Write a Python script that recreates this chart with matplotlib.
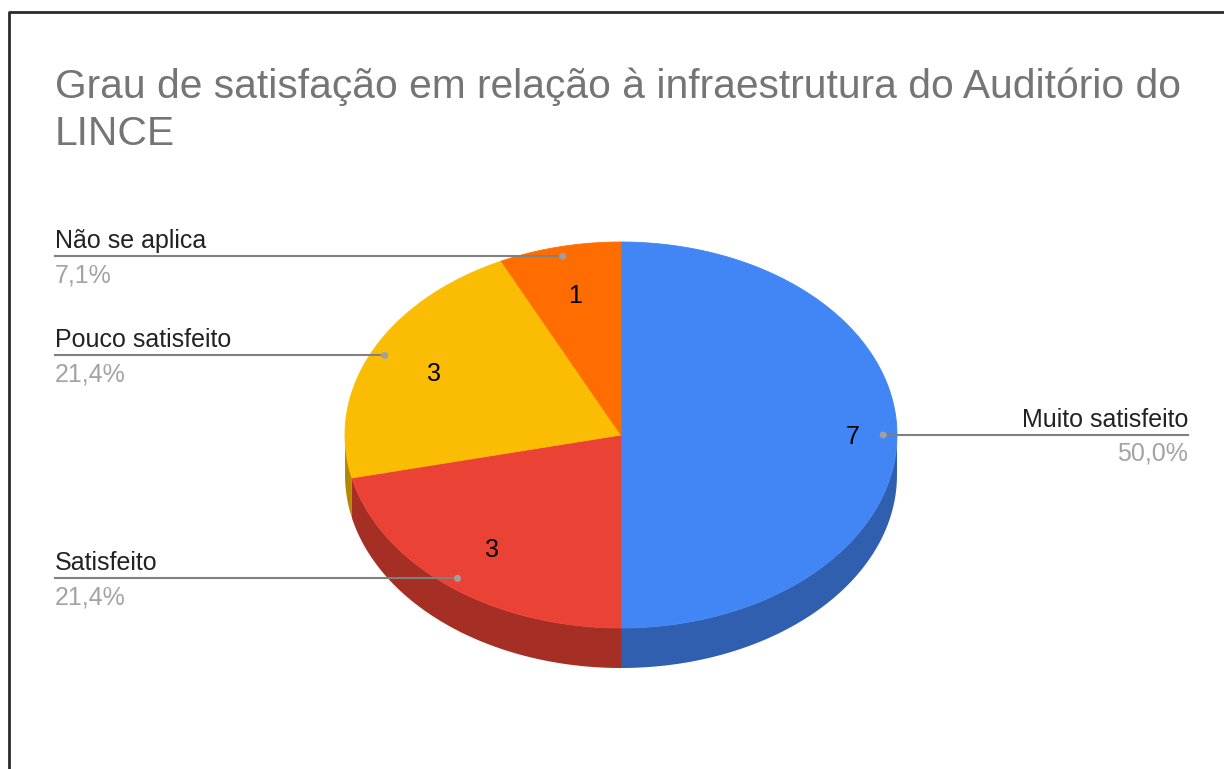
import numpy as np
import matplotlib
matplotlib.use("Agg")
import matplotlib.pyplot as plt
from matplotlib.patches import Polygon, Circle

plt.rcParams["font.family"] = ["Liberation Sans", "DejaVu Sans"]

# data (clockwise from 12 o'clock, as in the sheet)
categories = ["Muito satisfeito", "Satisfeito", "Pouco satisfeito", "Não se aplica"]
counts = [7, 3, 3, 1]
top_colors = ["#4285F4", "#EA4335", "#FBBC04", "#FF6D01"]
side_colors = ["#2F5FAE", "#A52E25", "#B58804", "#B84E01"]
title = "Grau de satisfação em relação à infraestrutura do Auditório do\nLINCE"

# pie geometry in pixel space
CX, CY = 621, 435
RX, RY = 276, 193
DEPTH = 40


def ell(theta_deg, r=1.0, dy=0.0):
    t = np.radians(theta_deg)
    return CX + r * RX * np.sin(t), CY - r * RY * np.cos(t) + dy


def main() -> None:
    fig = plt.figure(figsize=(12.24, 7.69), dpi=100)
    ax = fig.add_axes([0, 0, 1, 1])
    ax.set_xlim(0, 1224)
    ax.set_ylim(769, 0)
    ax.axis("off")

    # frame of the screenshot
    ax.plot([8.5, 8.5, 1224], [769, 11.5, 11.5], color="#2A2A2A", lw=2, solid_capstyle="butt")

    total = sum(counts)
    bounds = np.concatenate([[0], np.cumsum(counts)]) / total * 360

    # side walls (only the front half, 90..270 deg, is visible)
    for i in range(len(counts)):
        a, b = max(bounds[i], 90), min(bounds[i + 1], 270)
        if b <= a:
            continue
        th = np.linspace(a, b, 80)
        xs, ys = ell(th)
        pts = list(zip(xs, ys)) + list(zip(xs[::-1], ys[::-1] + DEPTH))
        ax.add_patch(Polygon(pts, closed=True, fc=side_colors[i], ec="none", zorder=1))

    # top faces
    for i in range(len(counts)):
        th = np.linspace(bounds[i], bounds[i + 1], 150)
        xs, ys = ell(th)
        pts = [(CX, CY)] + list(zip(xs, ys))
        ax.add_patch(Polygon(pts, closed=True, fc=top_colors[i], ec=top_colors[i], lw=0.6, zorder=2))

    # values inside slices, leader lines and outside labels
    for i, (name, v) in enumerate(zip(categories, counts)):
        mid = (bounds[i] + bounds[i + 1]) / 2
        vx, vy = ell(mid, 0.75)
        if i == 0:
            vx, vy = ell(mid, 0.84)
        ax.text(vx, vy + 2, str(v), fontsize=18, color="#000000", ha="center", va="center", zorder=4)

        px, py = ell(mid, 0.95)
        ax.add_patch(Circle((px, py), 3.5, fc="#A0A0A0", ec="none", zorder=5))
        pct = f"{v / total * 100:.1f}".replace(".", ",") + "%"
        if px > CX:
            ax.plot([px, 1188], [py, py], color="#808080", lw=1.5, zorder=3)
            tx, ha = 1188, "right"
        else:
            ax.plot([55, px], [py, py], color="#808080", lw=1.5, zorder=3)
            tx, ha = 55, "left"
        ax.text(tx, py - 8, name, fontsize=18, color="#222222", ha=ha, va="baseline")
        ax.text(tx, py + 26, pct, fontsize=18, color="#A3A3A3", ha=ha, va="baseline")

    ax.text(55, 68, title, fontsize=29.3, color="#757575", ha="left", va="top", linespacing=1.28)

    fig.savefig("out.png", dpi=100)


if __name__ == "__main__":
    main()
